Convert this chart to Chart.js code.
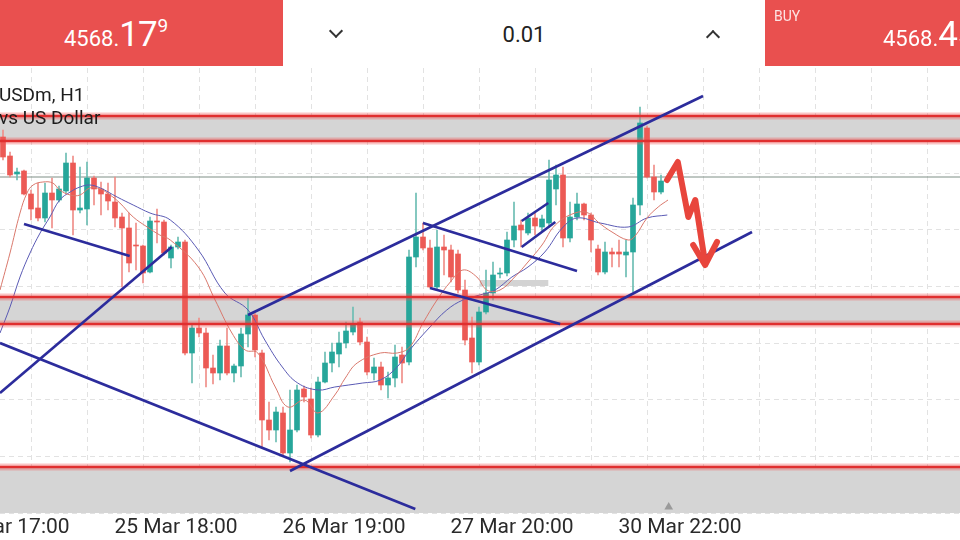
<!DOCTYPE html>
<html><head><meta charset="utf-8">
<script src="https://cdn.jsdelivr.net/npm/chart.js@4.4.1/dist/chart.umd.min.js"></script>
<style>
html,body{margin:0;padding:0;background:#fff;width:960px;height:540px;overflow:hidden;font-family:Roboto,"Noto Sans",sans-serif;}
canvas{position:absolute;left:0;top:0;}
.box{position:absolute;top:0;height:66px;}
#sell{left:0;width:283px;background:#e9504f;}
#mid{left:283px;width:482px;background:#fff;}
#buy{left:765px;width:195px;background:#e9504f;}
.price{position:absolute;top:14px;display:flex;align-items:baseline;color:#fff;white-space:nowrap;}
.price .s{font-size:22px;}
.price .b{font-size:35px;letter-spacing:-1px;}
.price .u{font-size:19px;position:relative;top:-14px;margin-left:1px;}
#lot{position:absolute;left:0;width:482px;top:22px;text-align:center;font-size:22px;color:#222;}
.chev{position:absolute;width:8px;height:8px;border-right:2px solid #333;border-bottom:2px solid #333;}
#buylbl{position:absolute;left:774px;top:8px;font-size:14px;color:#fde4e4;}
.sym{position:absolute;left:-1px;font-size:19px;color:#1d1d1d;white-space:nowrap;z-index:5;}
</style></head><body>
<canvas id="c" width="960" height="540"></canvas>
<div class="box" id="sell"><div class="price" style="left:64px"><span class="s">4568.</span><span class="b">17</span><span class="u">9</span></div></div>
<div class="box" id="mid">
  <div class="chev" style="left:48px;top:26px;transform:rotate(45deg)"></div>
  <div id="lot">0.01</div>
  <div class="chev" style="left:425px;top:32px;transform:rotate(-135deg)"></div>
</div>
<div class="box" id="buy"></div>
<div id="buylbl">BUY</div>
<div class="price" style="left:883px"><span class="s">4568.</span><span class="b">45</span></div>
<div class="sym" style="top:83px">USDm, H1</div>
<div class="sym" style="top:106px">vs US Dollar</div>
<script>
// ---- candle data (XAUUSD H1), index = bar number ----
const opens  = [4588,4578.5,4569.5,4571,4559.5,4552.5,4547.5,4560,4556.5,4561,4575,4551.5,4552,4567.5,4562,4559.5,4555.5,4548,4542.5,4534,4533.5,4520.5,4546,4545.5,4527.5,4533,4535.5,4480,4492.5,4490,4472.5,4470,4483.5,4470,4473.5,4489.5,4499,4480,4446.5,4441.5,4450,4430,4441.5,4462,4457,4439,4465.5,4475,4479.5,4485,4490.5,4495.5,4485.5,4470,4473,4464,4467.5,4479,4475.5,4528,4538,4532.5,4513,4533,4531.5,4529.5,4511.5,4487.5,4475.5,4500.5,4510,4519.5,4520,4536.5,4544,4540,4547.5,4543,4545,4562,4569,4537.5,4548,4554.5,4549,4532,4520.5,4530.5,4530.5,4529,4530.5,4554,4592.5,4568,4560.5];
const highs  = [4591.5,4580.5,4572.5,4571.5,4561.5,4565,4565,4567.5,4563.5,4580,4578.5,4573,4575.5,4568.5,4565.5,4565,4568,4550,4550,4545,4534,4548,4552,4546.5,4534,4538,4536.5,4494,4497.5,4492.5,4479,4486.5,4492.5,4474.5,4492.5,4507.5,4500,4481.5,4455.5,4453,4453,4461.5,4464,4463.5,4462.5,4468,4480.5,4485,4490.5,4495.5,4503,4497.5,4488,4477.5,4475.5,4470.5,4484,4483,4531.5,4560,4545,4536.5,4541.5,4539,4534,4531.5,4516.5,4498,4503,4521.5,4525.5,4522.5,4540.5,4555.5,4546.5,4550,4550,4549,4576.5,4574,4573,4555.5,4560,4555,4550,4534,4535.5,4532.5,4536.5,4536.5,4557.5,4603,4593.5,4574,4569];
const lows   = [4576.5,4568,4566.5,4559,4546.5,4546,4545.5,4542.5,4555.5,4560,4539,4550,4544,4554,4549,4551.5,4543,4513,4520.5,4521.5,4515,4520,4535,4529,4522.5,4532,4479,4465,4488,4463,4464.5,4466.5,4469,4465.5,4468,4483,4478,4433,4436.5,4435.5,4429,4425.5,4440.5,4455.5,4437.5,4438,4465,4470.5,4473,4482.5,4489,4484,4469,4466.5,4461.5,4457.5,4463,4465,4474,4523,4531.5,4512.5,4512,4519,4515.5,4510,4484,4470,4474,4499.5,4506.5,4517.5,4518.5,4533,4533,4539,4539,4540.5,4543,4554,4533,4535.5,4546.5,4546.5,4530.5,4519,4519.5,4523,4523,4518,4510.5,4549,4567.5,4556.5,4559.5];
const closes = [4578,4569,4570.5,4559.5,4552,4547.5,4560,4556.5,4562,4575,4551.5,4552.5,4567.5,4562,4559.5,4556,4547.5,4542.5,4525,4533.5,4520,4546,4545.5,4530,4533,4535.5,4480,4492.5,4490,4472.5,4470,4483.5,4470,4473.5,4489.5,4499,4481.5,4446.5,4441.5,4450.5,4430,4441.5,4461.5,4458,4439,4465.5,4475,4480.5,4485,4491,4494,4485.5,4470.5,4473,4464,4467.5,4478,4475,4528,4538,4532.5,4513,4533,4531.5,4518,4511.5,4486.5,4475.5,4500.5,4510,4519,4520,4536.5,4543.5,4541.5,4547.5,4543.5,4547,4566.5,4569,4537.5,4548,4554.5,4549,4536.5,4520.5,4530.5,4529.5,4529.5,4530.5,4554,4595,4568,4560.5,4566];

// ---- moving averages (bar position, price) ----
const maFastX = [-0.43,1,2.43,3.43,4.3,5.7,7.1,8.1,9.6,11,12.4,13.9,15.3,16.7,18.6,20.6,22.4,23.9,27.9,30.3,32.7,34.6,36.4,38.9,40.7,43.1,45,47.4,48.9,50.6,53.9,56.3,58.1,60,62,63.9,65.7,67.7,69.1,71,73.1,75,77,78.9,81.7,83.6,85,87,89.3,90.3,92,93.6,95];
const maFastY = [4511.5,4530,4550,4560,4564,4565.5,4565,4561.5,4559,4559,4562.5,4562,4559,4555,4548,4543,4539,4536.5,4523,4506.5,4490,4481.5,4480,4463,4453,4456.5,4450,4459,4467.5,4475,4480,4480,4483,4495,4506.5,4515.5,4521.5,4518,4511.5,4511.5,4518,4525.5,4534,4544,4550,4550,4545.5,4540.5,4536.5,4538.5,4547.5,4553,4556.5];
const maSlowX = [-0.43,1,2.43,3.86,5.3,6.7,8.1,9.6,11,12.4,13.9,16.3,18.6,21,23.9,27.9,31.7,35,37.4,39.9,42.1,45,47.4,51.4,53.9,56.3,58.1,61,63.4,65.7,68.1,70.3,72.7,75,77.4,79.9,82,85.3,89.3,92,94.9];
const maSlowY = [4490,4503,4518,4530,4540,4548,4556.5,4560.5,4563,4564,4562.5,4558,4554,4550,4546.5,4531.5,4510,4501.5,4486.5,4473,4465,4461.5,4463,4465,4466.5,4473,4481.5,4493,4501.5,4506.5,4509,4511.5,4518,4523,4530.5,4542.5,4547.5,4545,4543,4547.5,4549];

// ---- drawn objects ----
const levelLines = [4598.5, 4586, 4508, 4494.5, 4423];
const zones = [[4586, 4598.5], [4494.5, 4508], [4390, 4423]];
const bidPrice = 4568;
const trendLines = [
  [[3, 4544.5], [18.1, 4528.5]],
  [[-0.43, 4460], [24.1, 4533]],
  [[-0.43, 4485], [58.9, 4402]],
  [[41, 4421], [107, 4540.5]],
  [[35, 4499], [100, 4608.5]],
  [[60, 4545], [82, 4521]],
  [[61, 4512.5], [79.6, 4494.5]],
  [[74.1, 4546], [77.9, 4555]],
  [[74.1, 4533], [78.9, 4545.5]]
];
const arrowPath = [[94.86, 4566.5], [96.4, 4575.5], [97.9, 4548], [98.9, 4556.5], [100.3, 4525]];
const arrowHead = [[98.6, 4534], [100.3, 4524], [102, 4535.5]];
const greyMark = [[68.1, 4515], [77.9, 4515]];
const periodMarker = [95.1, 4403];

// ---- axes ----
const tickLabels = ["24 Mar 17:00", "25 Mar 18:00", "26 Mar 19:00", "27 Mar 20:00", "30 Mar 22:00"];
const tickBars = [0, 24, 48, 72, 96];
const gridBars = [0,8,16,24,32,40,48,56,64,72,80,88,96,104,112,120,128,136];
const priceGrid = [4400, 4428.3, 4456.7, 4485, 4513.3, 4541.7, 4570, 4598.4];

const UP = '#26a69a', DN = '#ec5a55', UPW = '#6cbdb3', DNW = '#f08e89';
const idx = opens.map((_, i) => i);
const isUp = i => closes[i] >= opens[i];
const pts = a => a.map(p => ({x: p[0], y: p[1]}));
const XMIN = -3/7, XMAX = 957/7;

const datasets = [];
zones.forEach(z => datasets.push({type:'line', data:[{x:-5,y:z[1]},{x:150,y:z[1]}], borderWidth:0, pointRadius:0, fill:{value:z[0]}, backgroundColor:'#d5d5d5', order:20}));
datasets.push({type:'line', data:[{x:-5,y:bidPrice},{x:150,y:bidPrice}], borderColor:'#7f8f86', borderWidth:1, pointRadius:0, order:19});
datasets.push({type:'line', data:pts(greyMark), borderColor:'#d3d3d3', borderWidth:6, pointRadius:0, order:18});
datasets.push({type:'bar', data: idx.map(i => ({x:i, y:[lows[i], highs[i]]})), backgroundColor: idx.map(i => isUp(i) ? UPW : DNW), barThickness:1, grouped:false, borderWidth:0, order:12});
datasets.push({type:'bar', data: idx.map(i => ({x:i, y:[opens[i], closes[i]]})), backgroundColor: idx.map(i => isUp(i) ? UP : DN), barThickness:5, grouped:false, borderWidth:0, minBarLength:1, order:11});
datasets.push({type:'line', data: maSlowX.map((x,i)=>({x, y:maSlowY[i]})), borderColor:'#5a5ab4', borderWidth:1, pointRadius:0, tension:0.4, order:9});
datasets.push({type:'line', data: maFastX.map((x,i)=>({x, y:maFastY[i]})), borderColor:'#d9786c', borderWidth:1, pointRadius:0, tension:0.4, order:8});
levelLines.forEach(v => {
  datasets.push({type:'line', data:[{x:-5,y:v},{x:150,y:v}], borderColor:'rgba(240,90,90,0.35)', borderWidth:7, pointRadius:0, order:7});
  datasets.push({type:'line', data:[{x:-5,y:v},{x:150,y:v}], borderColor:'#e02f2f', borderWidth:2.5, pointRadius:0, order:6});
});
trendLines.forEach(t => datasets.push({type:'line', data:pts(t), borderColor:'#2c2c9c', borderWidth:2.6, pointRadius:0, order:4}));
datasets.push({type:'line', data:pts(arrowPath), borderColor:'#e8453c', borderWidth:6, borderCapStyle:'round', borderJoinStyle:'round', pointRadius:0, order:2});
datasets.push({type:'line', data:pts(arrowHead), borderColor:'#e8453c', borderWidth:6, borderCapStyle:'round', borderJoinStyle:'round', pointRadius:0, order:2});
datasets.push({type:'scatter', data:[{x:periodMarker[0], y:periodMarker[1]}], pointStyle:'triangle', pointRadius:5, backgroundColor:'#9a9a9a', borderWidth:0, order:1});

new Chart(document.getElementById('c'), {
  type: 'bar',
  data: { datasets },
  options: {
    responsive: false, animation: false, events: [],
    layout: { autoPadding: false, padding: { top: 68, left: 0, right: 0, bottom: 0 } },
    plugins: { legend: { display: false }, tooltip: { enabled: false } },
    scales: {
      x: {
        type: 'linear', min: XMIN, max: XMAX, offset: false,
        afterBuildTicks: s => { s.ticks = gridBars.map(v => ({ value: v })); },
        afterFit: s => { s.paddingLeft = 0; s.paddingRight = 0; s.height = 27; },
        ticks: { autoSkip: false, maxRotation: 0, minRotation: 0, labelOffset: 5, padding: 2, color: '#2a2a2a',
                 font: { family: 'Roboto', size: 21 },
                 callback: v => { const k = tickBars.indexOf(v); return k >= 0 ? tickLabels[k] : ''; } },
        grid: { color: '#e2e2e2', drawTicks: false, lineWidth: 1 },
        border: { display: false, dash: [5, 4] }
      },
      y: {
        type: 'linear', min: 4400, max: 4622.5, position: 'right',
        afterBuildTicks: s => { s.ticks = priceGrid.map(v => ({ value: v })); },
        afterFit: s => { s.width = 0; s.paddingTop = 0; s.paddingBottom = 0; },
        ticks: { display: false },
        grid: { color: '#e2e2e2', drawTicks: false, lineWidth: 1 },
        border: { display: false, dash: [5, 4] }
      }
    }
  }
});
</script>
</body></html>
